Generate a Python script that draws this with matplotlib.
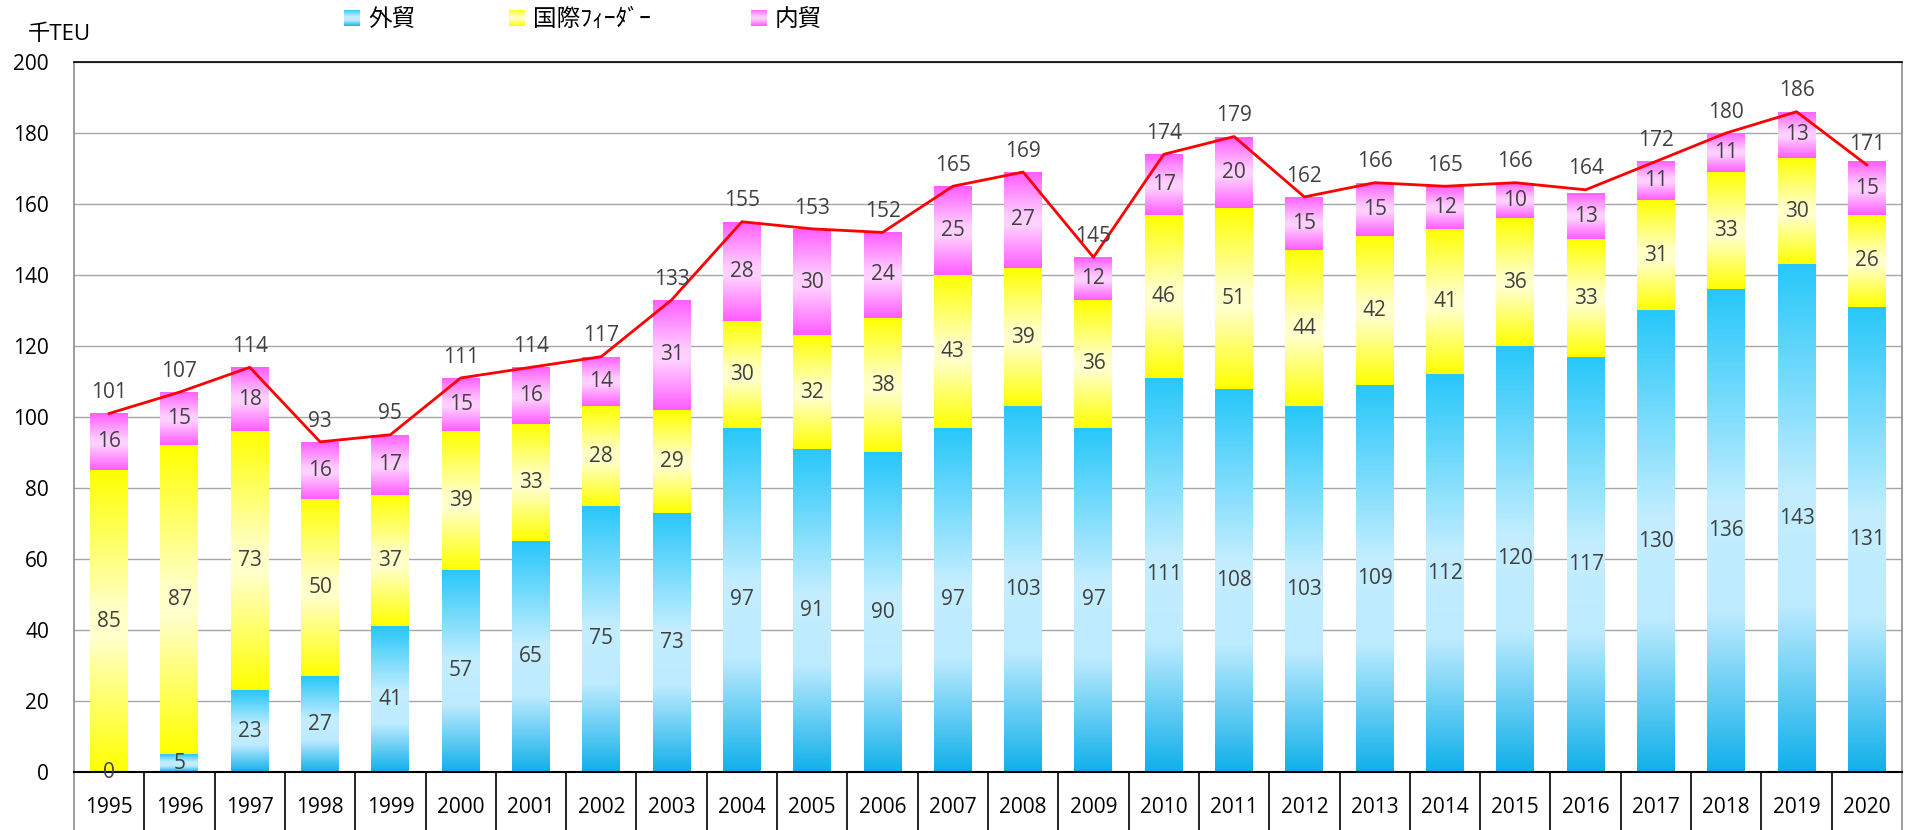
import numpy as np
import matplotlib
matplotlib.use("Agg")
import matplotlib.pyplot as plt
from matplotlib.colors import LinearSegmentedColormap
from matplotlib.transforms import blended_transform_factory

plt.rcParams['font.family'] = ['Open Sans', 'Noto Sans CJK JP', 'DejaVu Sans']

years = [str(y) for y in range(1995, 2021)]
gaibo = [0, 5, 23, 27, 41, 57, 65, 75, 73, 97, 91, 90, 97, 103, 97, 111, 108, 103, 109, 112, 120, 117, 130, 136, 143, 131]
feeder = [85, 87, 73, 50, 37, 39, 33, 28, 29, 30, 32, 38, 43, 39, 36, 46, 51, 44, 42, 41, 36, 33, 31, 33, 30, 26]
naibo = [16, 15, 18, 16, 17, 15, 16, 14, 31, 28, 30, 24, 25, 27, 12, 17, 20, 15, 15, 12, 10, 13, 11, 11, 13, 15]
totals = [101, 107, 114, 93, 95, 111, 114, 117, 133, 155, 153, 152, 165, 169, 145, 174, 179, 162, 166, 165, 166, 164, 172, 180, 186, 171]
series_names = ['外貿', '国際ﾌｨｰﾀﾞｰ', '内貿']

cmaps = [
    LinearSegmentedColormap.from_list('b', [(0, '#10b0ea'), (0.33, '#bdebff'), (0.55, '#c4eeff'), (1.0, '#27c7fa')]),
    LinearSegmentedColormap.from_list('y', [(0, '#ffff00'), (0.45, '#ffffcc'), (0.55, '#ffffc4'), (1.0, '#ffff00')]),
    LinearSegmentedColormap.from_list('p', [(0, '#ff5cff'), (0.45, '#ffd2ff'), (0.55, '#ffcdff'), (1.0, '#ff5cff')]),
]
grad = np.linspace(0, 1, 256).reshape(-1, 1)

fig = plt.figure(figsize=(19.09, 8.30), dpi=100)
ax = fig.add_axes([74/1909, 1-772/830, (1902-74)/1909, (772-62)/830])

x = np.arange(len(years))
width = 0.54
label_color = '#404040'
bottom = np.zeros(len(years))
for vals, cmap in zip([gaibo, feeder, naibo], cmaps):
    vals = np.array(vals, dtype=float)
    bars = ax.bar(x, vals, width, bottom=bottom, color='none', edgecolor='none', zorder=2)
    for p, v, b in zip(bars.patches, vals, bottom):
        if v > 0:
            x0, y0 = p.get_x(), p.get_y()
            im = ax.imshow(grad, cmap=cmap, extent=[x0, x0 + p.get_width(), y0, y0 + p.get_height()],
                           origin='lower', aspect='auto', zorder=2, interpolation='bilinear')
            im.set_clip_path(p)
        ax.text(p.get_x() + p.get_width()/2, b + v/2, f'{int(v)}', ha='center', va='center',
                fontsize=15, color=label_color, zorder=4)
    bottom += vals

ax.plot(x, totals, color='#ff0000', lw=2.0, zorder=3)
for xi, t in zip(x, totals):
    ax.annotate(f'{t}', (xi, t), xytext=(0, 15), textcoords='offset points', ha='center', va='center',
                fontsize=15, color=label_color, zorder=4)

ax.set_xlim(-0.5, len(years) - 0.5)
ax.set_ylim(0, 200)
ax.set_yticks(np.arange(0, 201, 20))
ax.yaxis.grid(True, color='#a6a6a6', lw=1.0)
ax.set_axisbelow(True)
ax.tick_params(axis='y', length=0, pad=18, labelsize=15, labelcolor='#000000')
ax.tick_params(axis='x', length=0, labelbottom=False)
ax.set_xticks([])

for s in ['left', 'right']:
    ax.spines[s].set_color('#8c8c8c')
    ax.spines[s].set_linewidth(1.2)
ax.spines['top'].set_color('#000000')
ax.spines['top'].set_linewidth(1.2)
ax.spines['bottom'].set_color('#000000')
ax.spines['bottom'].set_linewidth(1.5)

# category table below axis
trans = blended_transform_factory(ax.transData, ax.transAxes)
ext = -60/710
for i in range(len(years) + 1):
    c = '#8c8c8c' if i in (0, len(years)) else '#000000'
    ax.plot([i - 0.5, i - 0.5], [0, ext], transform=trans, color=c, lw=1.2, clip_on=False)
for xi, yr in zip(x, years):
    ax.text(xi, -35/710, yr, transform=trans, ha='center', va='center', fontsize=15, color='#000000')

fig.text(28/1909, 1-35/830, '千TEU', fontsize=16, ha='left', va='center')

# legend
leg_items = [(344, 368), (509, 533), (751, 775)]
for (sx, tx), name, cmap in zip(leg_items, series_names, cmaps):
    lax = fig.add_axes([sx/1909, 1-26/830, 16/1909, 16/830])
    lax.imshow(grad, cmap=cmap, origin='lower', aspect='auto', extent=[0, 1, 0, 1])
    lax.set_axis_off()
    fig.text(tx/1909, 1-19/830, name, fontsize=17, ha='left', va='center',
             family=['Noto Sans CJK JP', 'DejaVu Sans'])

fig.savefig('out.png', dpi=100)
